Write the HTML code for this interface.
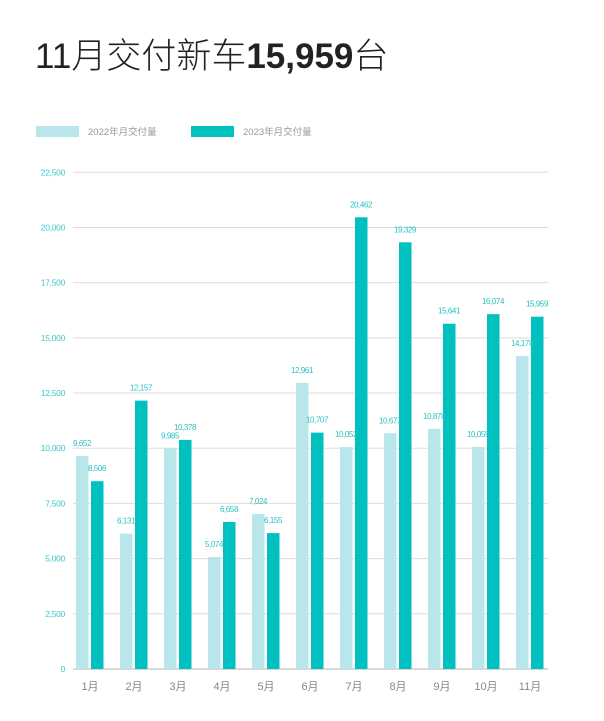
<!DOCTYPE html>
<html><head><meta charset="utf-8"><style>
body{margin:0;background:#fff;width:604px;height:721px;overflow:hidden;font-family:"Liberation Sans","Noto Sans CJK SC",sans-serif}
.t{position:absolute;left:35px;top:28px;font-size:35px;color:#222;white-space:nowrap;font-weight:300}
.t b{font-weight:bold}
</style></head><body>
<div class="t">11月交付新车<b>15,959</b>台</div>
<svg id="c" width="604" height="721" style="position:absolute;left:0;top:0"></svg>
<script>
const months=["1月","2月","3月","4月","5月","6月","7月","8月","9月","10月","11月"];
const s2022=[9652,6131,9985,5074,7024,12961,10052,10677,10878,10059,14178];
const s2023=[8506,12157,10378,6658,6155,10707,20462,19329,15641,16074,15959];
const ticks=[0,2500,5000,7500,10000,12500,15000,17500,20000,22500];
const NS="http://www.w3.org/2000/svg";
const svg=document.getElementById('c');
const y0=669,yTop=172.3,maxV=22500;
const y=v=>y0-(v/maxV)*(y0-yTop);
const x=i=>76+i*44;
function mk(t,a,txt){const e=document.createElementNS(NS,t);for(const k in a)e.setAttribute(k,a[k]);if(txt!==undefined)e.textContent=txt;svg.appendChild(e);return e;}
let e=mk('rect',{x:36,y:126,width:43,height:11,fill:'#b8e6ea'});


e=mk('text',{x:88,y:135,'font-size':9.5,fill:'#999'},'2022年月交付量');


e=mk('rect',{x:191,y:126,width:43,height:11,fill:'#00c0c0'});


e=mk('text',{x:243,y:135,'font-size':9.5,fill:'#999'},'2023年月交付量');


ticks.forEach(t=>{
 e=mk('line',{x1:73,x2:548,y1:y(t),y2:y(t),stroke:t===0?'#ccc':'#ddd','stroke-width':t===0?1.5:1});
 
 
 e=mk('text',{x:65,y:y(t)+3,'font-size':8.5,fill:'#3cc8c8','text-anchor':'end','letter-spacing':'-0.3'},t.toLocaleString('en-US'));
 
 
});
months.forEach((m,i)=>{
 e=mk('rect',{x:x(i),y:y(s2022[i]),width:12.5,height:y0-y(s2022[i]),fill:'#b8e6ea'});
 
 
 e=mk('rect',{x:x(i)+15,y:y(s2023[i]),width:12.5,height:y0-y(s2023[i]),fill:'#00c0c0'});
 
 
 e=mk('text',{x:x(i)+14,y:690,'font-size':11,fill:'#888','text-anchor':'middle'},m);
 
 
});
months.forEach((m,i)=>{
 e=mk('text',{x:x(i)+6,y:y(s2022[i])-10,'font-size':8,fill:'#2cc0c0','text-anchor':'middle','letter-spacing':'-0.4'},s2022[i].toLocaleString('en-US'));
 
 
 e=mk('text',{x:x(i)+21,y:y(s2023[i])-10,'font-size':8,fill:'#2cc0c0','text-anchor':'middle','letter-spacing':'-0.4'},s2023[i].toLocaleString('en-US'));
 
 
});
</script>
</body></html>
